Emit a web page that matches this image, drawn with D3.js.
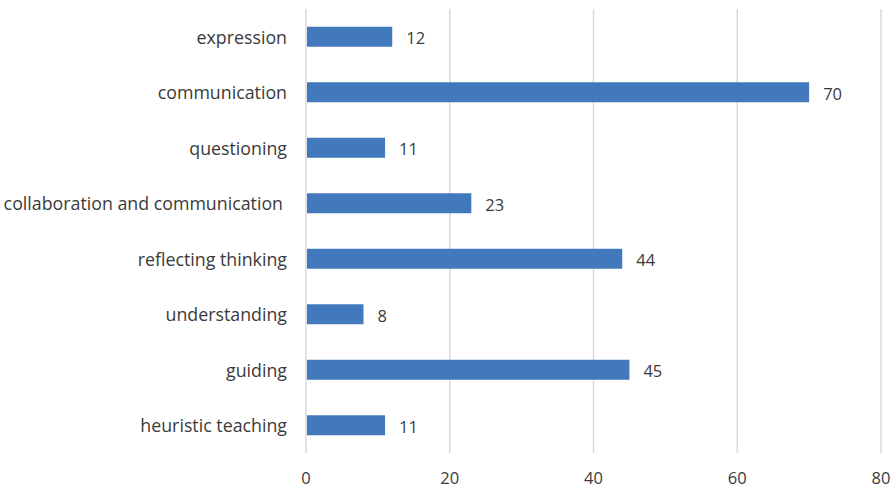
<!DOCTYPE html>
<html>
<head>
<meta charset="utf-8">
<script src="https://cdn.jsdelivr.net/npm/d3@7"></script>
<style>
  body { margin: 0; background: #fff; }
  text { font-family: "Open Sans", "Noto Sans", sans-serif; fill: #3a3a3a; }
</style>
</head>
<body>
<div id="chart"></div>
<script>
// data
const categories = ['expression', 'communication', 'questioning', 'collaboration and communication',
  'reflecting thinking', 'understanding', 'guiding', 'heuristic teaching'];
const counts = [12, 70, 11, 23, 44, 8, 45, 11];
const xTicks = [0, 20, 40, 60, 80];

const width = 896, height = 488;
const margins = { top: 9, bottom: 35, left: 306, right: 15 };

const svg = d3.select('#chart').append('svg')
  .attr('width', width).attr('height', height);

// scales
const xScale = d3.scaleLinear().domain([0, 80]).range([margins.left, 881]);
const yScale = d3.scaleBand().domain(categories)
  .range([margins.top, height - margins.bottom]).paddingInner(0.64).paddingOuter(0.32);

// gridlines
svg.append('g').selectAll('line').data(xTicks).join('line')
  .attr('x1', d => xScale(d)).attr('x2', d => xScale(d))
  .attr('y1', margins.top).attr('y2', height - margins.bottom)
  .attr('stroke', '#d9d9d9').attr('stroke-width', 1.5);

// x tick labels
svg.append('g').selectAll('text').data(xTicks).join('text')
  .attr('x', d => xScale(d)).attr('y', 483.5)
  .attr('text-anchor', 'middle')
  .attr('font-size', 16.5).text(d => d);

// bars
svg.append('g').selectAll('rect').data(counts).join('rect')
  .attr('x', xScale(0) + 1)
  .attr('y', (d, i) => yScale(categories[i]))
  .attr('width', d => xScale(d) - xScale(0) - 1)
  .attr('height', yScale.bandwidth())
  .attr('fill', '#4179bc');

// value labels
svg.append('g').selectAll('text').data(counts).join('text')
  .attr('x', d => xScale(d) + 14)
  .attr('y', (d, i) => yScale(categories[i]) + yScale.bandwidth() / 2 + 1)
  .attr('dominant-baseline', 'central')
  .attr('font-size', 16.5).text(d => d);

// category labels (the long one ends a little short of the others)
svg.append('g').selectAll('text').data(categories).join('text')
  .attr('x', d => d === 'collaboration and communication' ? 283 : 287)
  .attr('y', d => yScale(d) + yScale.bandwidth() / 2)
  .attr('text-anchor', 'end').attr('dominant-baseline', 'central')
  .attr('font-size', 17.8).text(d => d);
</script>
</body>
</html>
